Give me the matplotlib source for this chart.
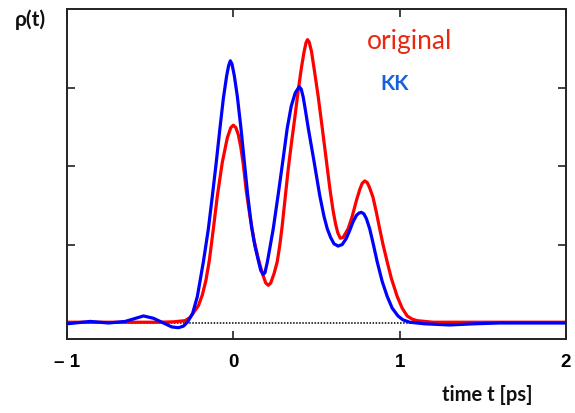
import matplotlib
matplotlib.use("Agg")
import matplotlib.pyplot as plt

# Pulse profile rho(t): original vs Kramers-Kronig (KK) reconstruction
t_orig = [-1.0, -0.8, -0.6, -0.45, -0.36, -0.29, -0.26, -0.24, -0.21, -0.186,
          -0.165, -0.144, -0.12, -0.096, -0.066, -0.036, -0.015, 0.0, 0.015, 0.03,
          0.045, 0.06, 0.078, 0.10, 0.125, 0.15, 0.175, 0.195, 0.21, 0.225,
          0.245, 0.264, 0.28, 0.294, 0.312, 0.33, 0.35, 0.37, 0.39, 0.41,
          0.425, 0.437, 0.446, 0.456, 0.47, 0.49, 0.51, 0.535, 0.56, 0.58,
          0.60, 0.615, 0.628, 0.643, 0.66, 0.69, 0.715, 0.74, 0.76, 0.775,
          0.79, 0.805, 0.82, 0.84, 0.86, 0.88, 0.90, 0.925, 0.95, 0.985,
          1.015, 1.045, 1.075, 1.105, 1.2, 1.5, 2.0]
rho_orig = [0.01, 0.01, 0.01, 0.01, 0.015, 0.03, 0.07, 0.13, 0.22, 0.36,
            0.54, 0.80, 1.20, 1.62, 2.05, 2.36, 2.49, 2.52, 2.49, 2.40,
            2.24, 2.02, 1.68, 1.36, 1.05, 0.82, 0.63, 0.51, 0.48, 0.51,
            0.63, 0.78, 1.00, 1.24, 1.60, 1.96, 2.30, 2.62, 2.96, 3.26,
            3.45, 3.57, 3.61, 3.58, 3.46, 3.18, 2.89, 2.48, 2.06, 1.72,
            1.43, 1.26, 1.15, 1.08, 1.09, 1.20, 1.36, 1.56, 1.70, 1.78,
            1.81, 1.79, 1.72, 1.60, 1.41, 1.20, 1.00, 0.78, 0.57, 0.34,
            0.19, 0.09, 0.05, 0.03, 0.01, 0.01, 0.01]

t_kk = [-1.0, -0.86, -0.75, -0.65, -0.54, -0.48, -0.42, -0.37, -0.33, -0.30,
        -0.276, -0.245, -0.216, -0.18, -0.15, -0.126, -0.104, -0.082, -0.06, -0.04,
        -0.028, -0.018, -0.008, 0.006, 0.024, 0.045, 0.066, 0.087, 0.11, 0.13,
        0.15, 0.165, 0.18, 0.19, 0.204, 0.22, 0.24, 0.27, 0.30, 0.324,
        0.348, 0.372, 0.396, 0.408, 0.42, 0.432, 0.45, 0.486, 0.52, 0.545,
        0.565, 0.585, 0.605, 0.63, 0.655, 0.68, 0.70, 0.72, 0.74, 0.755,
        0.77, 0.785, 0.80, 0.82, 0.84, 0.865, 0.895, 0.925, 0.955, 0.99,
        1.02, 1.06, 1.15, 1.3, 1.45, 1.6, 2.0]
rho_kk = [-0.01, 0.02, 0.0, 0.02, 0.09, 0.06, 0.0, -0.05, -0.06, -0.04,
          0.01, 0.12, 0.34, 0.78, 1.20, 1.62, 2.02, 2.45, 2.86, 3.15,
          3.28, 3.34, 3.30, 3.15, 2.89, 2.50, 2.06, 1.62, 1.22, 0.98,
          0.80, 0.67, 0.62, 0.64, 0.77, 0.96, 1.20, 1.64, 2.10, 2.48,
          2.76, 2.93, 3.01, 2.98, 2.88, 2.73, 2.49, 2.05, 1.62, 1.36,
          1.20, 1.09, 1.01, 0.98, 1.00, 1.08, 1.18, 1.29, 1.37, 1.40,
          1.41, 1.39, 1.33, 1.20, 1.02, 0.78, 0.53, 0.34, 0.19, 0.09,
          0.04, 0.01, -0.01, -0.025, -0.01, 0.0, 0.0]

x_ticks = [-1, 0, 1, 2]
x_tick_labels = ["\u2013 1", "0", "1", "2"]
y_ticks = [1, 2, 3]

fig = plt.figure(figsize=(5.75, 4.14), dpi=100)
ax = fig.add_axes([0.1165, 0.1787, 0.8678, 0.7971])

ax.axhline(0, color="black", lw=1.1, ls=(0, (1, 1)), zorder=1)
ax.plot(t_orig, rho_orig, color="#ff0000", lw=2.3, solid_capstyle="round",
        solid_joinstyle="round", zorder=2)
ax.plot(t_kk, rho_kk, color="#0000ff", lw=2.3, solid_capstyle="round",
        solid_joinstyle="round", zorder=3)

ax.set_xlim(-1, 2)
ax.set_ylim(-0.204, 4.0)
ax.set_xticks(x_ticks)
ax.set_xticklabels(x_tick_labels)
ax.set_yticks(y_ticks)
ax.set_yticklabels([])
ax.tick_params(axis="both", direction="in", length=6, width=1.2,
               top=True, right=True, color="#222222")
ax.tick_params(axis="x", pad=10, labelsize=13.5)
for lbl in ax.get_xticklabels():
    lbl.set_fontweight("bold")
    lbl.set_family("Liberation Sans")
for sp in ax.spines.values():
    sp.set_linewidth(1.4)
    sp.set_color("#222222")

fig.text(30 / 575, 1 - 20 / 414, "\u03c1(t)", ha="center", va="center",
         fontsize=15, fontweight="bold", family="Lato", color="#111111")
fig.text(487 / 575, 1 - 395 / 414, "time t [ps]", ha="center", va="center",
         fontsize=14.5, fontweight="bold", family="Lato", color="#111111")
fig.text(410 / 575, 1 - 42 / 414, "original", ha="center", va="center",
         fontsize=19, family="Lato", color="#e8290f")
fig.text(395 / 575, 1 - 84 / 414, "KK", ha="center", va="center",
         fontsize=15, fontweight="bold", family="Lato", color="#1660dc")

fig.savefig("out.png", dpi=100)
